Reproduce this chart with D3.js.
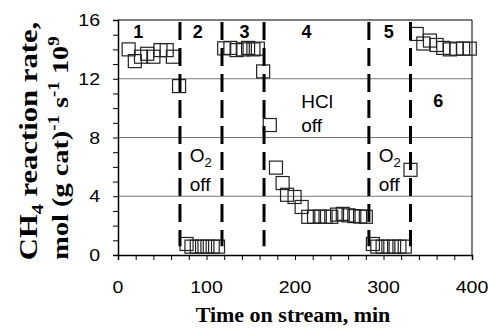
<!DOCTYPE html>
<html>
<head>
<meta charset="utf-8">
<script src="https://cdn.jsdelivr.net/npm/d3@7"></script>
<style>
  body { margin: 0; background: #fff; }
  svg { display: block; }
</style>
</head>
<body>
<div id="chart"></div>
<script>
// time on stream (min) and CH4 reaction rate
const timeMin = [
  12, 19, 26, 33, 40, 48, 55, 62, 69,
  77.5, 83, 89, 95, 101, 107, 113,
  120, 127, 134, 141, 147, 153, 158, 164,
  171.5, 178.5, 186, 191, 199.5, 207.5, 215, 221.5, 228, 234.5, 241, 247.5, 254, 260.5, 267, 273.5, 280,
  288, 293, 299, 305.5, 312, 318, 324, 330.5,
  337.5, 345, 352.5, 360, 367.5, 375, 382.5, 390, 397.5
];
const rate = [
  14.0, 13.2, 13.5, 13.7, 13.5, 13.95, 13.95, 13.5, 11.5,
  0.75, 0.57, 0.57, 0.57, 0.57, 0.57, 0.57,
  14.07, 14.1, 13.95, 14.0, 14.1, 14.0, 14.05, 12.5,
  8.85, 5.95, 4.9, 4.1, 3.95, 3.27, 2.6, 2.6, 2.62, 2.6, 2.6, 2.75, 2.8, 2.7, 2.65, 2.62, 2.6,
  0.75, 0.57, 0.57, 0.57, 0.57, 0.57, 0.57, 5.8,
  15.05, 14.4, 14.6, 14.3, 14.1, 14.0, 14.05, 14.05, 14.05
];
// switching times (dashed lines)
const switchTimes = [70, 117.5, 165, 283.5, 330.5];
const stageLabels = ['1', '2', '3', '4', '5', '6'];
const stageLabelTime = [23, 90, 143, 213, 306, 362];
const stageLabelRate = [14.75, 14.75, 14.75, 14.75, 14.75, 10.05];
const xTicks = [0, 100, 200, 300, 400];
const yTicks = [0, 4, 8, 12, 16];

const W = 488, H = 331;
const margin = { top: 20, right: 16, bottom: 76, left: 118 };
const width = W - margin.left - margin.right;
const height = H - margin.top - margin.bottom;

const svg = d3.select('#chart').append('svg')
  .attr('width', W)
  .attr('height', H);

const g = svg.append('g')
  .attr('transform', `translate(${margin.left},${margin.top})`);

const x = d3.scaleLinear().domain([0, 400]).range([0, width]);
const y = d3.scaleLinear().domain([0, 16]).range([height, 0]);

const sans = 'Liberation Sans, Arial, sans-serif';
const serif = 'Liberation Serif, Times New Roman, serif';

// horizontal grid lines
g.append('g')
  .selectAll('line')
  .data([4, 8, 12])
  .enter().append('line')
  .attr('x1', 0).attr('x2', width)
  .attr('y1', d => y(d)).attr('y2', d => y(d))
  .attr('stroke', '#777')
  .attr('stroke-width', 1);

// frame top / right
g.append('line').attr('x1', 0).attr('x2', width).attr('y1', 0).attr('y2', 0)
  .attr('stroke', '#000').attr('stroke-width', 1);
g.append('line').attr('x1', width).attr('x2', width).attr('y1', 0).attr('y2', height)
  .attr('stroke', '#000').attr('stroke-width', 1);

// axes (ticks only, labels drawn separately)
const xAxis = d3.axisBottom(x).tickValues(d3.range(0, 401, 20)).tickSize(5).tickFormat('');
const yAxis = d3.axisLeft(y).tickValues(d3.range(0, 17, 1)).tickSize(5).tickFormat('');

g.append('g').attr('transform', `translate(0,${height})`).call(xAxis)
  .call(s => s.select('.domain').attr('stroke-width', 1.5))
  .call(s => s.selectAll('.tick line').attr('stroke-width', 1));
g.append('g').call(yAxis)
  .call(s => s.select('.domain').attr('stroke-width', 1.5))
  .call(s => s.selectAll('.tick line').attr('stroke-width', 1));

// tick labels (a bit wide in the original)
g.selectAll('.xlab')
  .data(xTicks)
  .enter().append('text')
  .attr('class', 'xlab')
  .attr('transform', d => `translate(${x(d)},${height + 38}) scale(1.15,1)`)
  .attr('text-anchor', 'middle')
  .style('font-family', sans)
  .style('font-size', '17px')
  .text(d => d);

g.selectAll('.ylab')
  .data(yTicks)
  .enter().append('text')
  .attr('class', 'ylab')
  .attr('transform', d => `translate(-18,${y(d) + 6}) scale(1.15,1)`)
  .attr('text-anchor', 'end')
  .style('font-family', sans)
  .style('font-size', '17px')
  .text(d => d);

// markers
const pts = timeMin.map((t, i) => [t, rate[i]]);
const s = 13;
g.append('g')
  .selectAll('rect')
  .data(pts)
  .enter().append('rect')
  .attr('x', d => x(d[0]) - s / 2)
  .attr('y', d => y(d[1]) - s / 2)
  .attr('width', s)
  .attr('height', s)
  .attr('fill', 'none')
  .attr('stroke', '#222')
  .attr('stroke-width', 1.2);

// dashed switch lines
g.append('g')
  .selectAll('line')
  .data(switchTimes)
  .enter().append('line')
  .attr('x1', d => x(d)).attr('x2', d => x(d))
  .attr('y1', 2).attr('y2', y(0.6))
  .attr('stroke', '#000')
  .attr('stroke-width', 3)
  .attr('stroke-dasharray', '18,8');

// stage numbers
g.selectAll('.stage')
  .data(stageLabels)
  .enter().append('text')
  .attr('class', 'stage')
  .attr('x', (d, i) => x(stageLabelTime[i]))
  .attr('y', (d, i) => y(stageLabelRate[i]))
  .attr('text-anchor', 'middle')
  .style('font-family', sans)
  .style('font-size', '18px')
  .style('font-weight', 'bold')
  .text(d => d);

// annotations
function note(t, v, lines) {
  const txt = g.append('text')
    .attr('x', x(t)).attr('y', y(v))
    .style('font-family', sans)
    .style('font-size', '19px');
  lines.forEach((ln, i) => {
    const ts = txt.append('tspan').attr('x', x(t)).attr('dy', i === 0 ? 0 : 24);
    if (ln === 'O2') {
      ts.text('O');
      txt.append('tspan').attr('dy', 5).style('font-size', '13px').text('2');
      txt.append('tspan').attr('dy', -5).text('');
    } else {
      ts.text(ln);
    }
  });
}
note(81, 6.3, ['O2', 'off']);
note(207, 10.0, ['HCl', 'off']);
note(294.5, 6.3, ['O2', 'off']);

// axis titles
svg.append('text')
  .attr('x', margin.left + width / 2 - 2)
  .attr('y', 322)
  .attr('text-anchor', 'middle')
  .style('font-family', serif)
  .style('font-weight', 'bold')
  .style('font-size', '22px')
  .text('Time on stream, min');

// y title, stretched along the text like the original
const yt1 = svg.append('text')
  .attr('transform', 'translate(37,141) rotate(-90) scale(1.18,1)')
  .attr('text-anchor', 'middle')
  .style('font-family', serif)
  .style('font-weight', 'bold')
  .style('font-size', '26px');
yt1.append('tspan').text('CH');
yt1.append('tspan').attr('dy', 6).style('font-size', '17px').text('4');
yt1.append('tspan').attr('dy', -6).text(' reaction rate,');

const yt2 = svg.append('text')
  .attr('transform', 'translate(68,148) rotate(-90) scale(1.18,1)')
  .attr('text-anchor', 'middle')
  .style('font-family', serif)
  .style('font-weight', 'bold')
  .style('font-size', '24px');
yt2.append('tspan').text('mol (g cat)');
yt2.append('tspan').attr('dy', -9).style('font-size', '16px').text('-1');
yt2.append('tspan').attr('dy', 9).text(' s');
yt2.append('tspan').attr('dy', -9).style('font-size', '16px').text('-1');
yt2.append('tspan').attr('dy', 9).text(' 10');
yt2.append('tspan').attr('dy', -9).style('font-size', '16px').text('9');
</script>
</body>
</html>
